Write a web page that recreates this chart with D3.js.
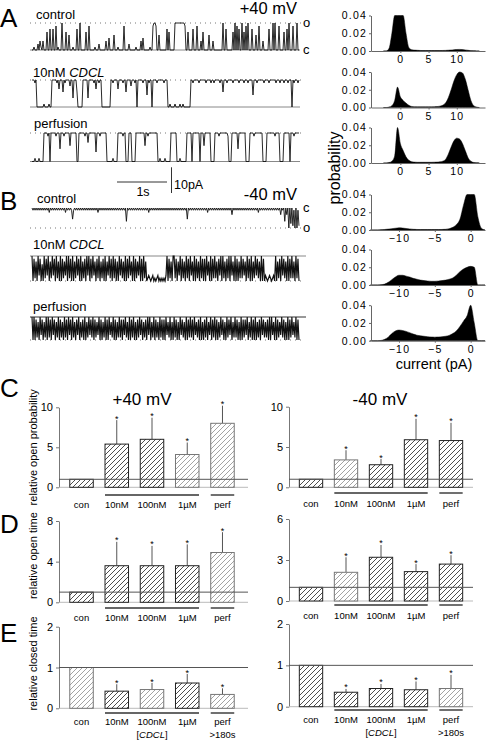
<!DOCTYPE html>
<html><head><meta charset="utf-8">
<script src="https://cdn.jsdelivr.net/npm/d3@7"></script>
<style>
body{margin:0;background:#fff}
svg{display:block}
text{font-family:"Liberation Sans",Arial,Helvetica,sans-serif}
</style>
</head><body>
<svg id="fig" width="486" height="742"></svg>
<script>
// ================= DATA =================
// single-channel traces: one digit per sample, 0 = closed level, 9 = fully open level;
// every trace covers the same 5.36 s record
const traceDuration = 5.36;
const traceA_control = ["0010002031","0300060070","0700801000","9000600500","0100070090","0000600800","0001000200","0000300400","0050001000","0080000200","0000100003","0400000010","0899800500","0000070600","0009999999","9998006000","0700080003","0600000500","0300000000","0900700000","0609080700","9060809000","7000500800","0300000700","0909000800","0060070900","08000900"].join("");
const traceA_cdcl = ["9998900000","0010000100","9999989699","9598999979","9399950000","0999993999","9989699899","0000000009","9899996999","9899599997","9998909999","9899949899","0999989999","9989990010","0001000010","0100000009","9899999899","9999899998","9989999989","9599989999","9899999899","9989998999","9499989999","9989999899","9999899989","9989998999","09899989"].join("");
const traceA_perf = ["0001000100","0099998909","9999899949","9989999959","9999900999","9998996999","9999399989","9999900000","0100009999","9899000999","0000999999","9995998999","9999990010","0001000009","9999900010","0000099999","0999999909","9959999990","0009999899","9999998000","9999994999","9999000099","9989999999","9000099999","9998999900","0099999909","99899999"].join("");
const traceB_control = ["0101010101","0101010201","0101010101","0102010101","5101010101","0101010101","0101020101","0101010101","0101010101","0106010101","0101010101","0101020101","0101010101","0101010101","0101010101","0105010101","0101010101","0102010101","0101010101","0101010301","0101010101","0101010101","0102010101","0101010101","0101030106","0309070819","0918"].join("");
const traceB_cdcl = ["0918290719","3908170928","0719082909","1827090819","0928071909","2819070918","0729180928","1909270819","0819290718","2909180729","0918270919","0829878987","9898798989","8970918290","0819270918","2908190729","0918290819","1907290918","0829170908","2918090729","0919280817","2908190928","0718290919","7898789879","0928190718","2909180829","0819"].join("");
const traceB_perf = ["0909182907","1928090819","0719280918","2908190719","0829170928","1909280718","0918270919","2809190728","0919280819","1708290918","0929180719","2819070928","0918290819","1907280929","0819290718","2909180819","0728190929","1809270918","0919280719","2908170928","0819290918","1709280919","0928190718","2819090729","0918270819","2909180728","0919"].join("");
const traceAmpA = 10.5;            // pA, +40 mV
const traceAmpB = [-8, -9.5, -9];  // pA, -40 mV (control, CDCL, perfusion)

// amplitude histograms (current in pA, probability)
const binsPos = [-3,-2.5,-2,-1.5,-1,-0.5,0,0.5,1,1.5,2,2.5,3,3.5,4,4.5,5,5.5,6,6.5,7,7.5,8,8.5,9,9.5,10,10.5,11,11.5,12,12.5,13,13.5,14];
const histA_control = [0,0,0.003,0.02,0.045,0.05,0.05,0.045,0.02,0.004,0.0015,0.001,0.0008,0.0006,0.0005,0.0005,0.0005,0.0005,0.0005,0.0005,0.0005,0.0006,0.0007,0.0009,0.0011,0.0014,0.0017,0.0018,0.0016,0.0012,0.0008,0.0004,0.0002,0,0];
const histA_cdcl = [0,0,0.0005,0.002,0.008,0.023,0.012,0.008,0.005,0.0025,0.0012,0.0009,0.0008,0.0008,0.0008,0.0008,0.0008,0.0008,0.0009,0.001,0.0015,0.0025,0.005,0.011,0.02,0.03,0.037,0.04,0.039,0.032,0.02,0.008,0.002,0.0005,0];
const histA_perf = [0,0,0.0005,0.002,0.008,0.05,0.022,0.014,0.007,0.003,0.0015,0.001,0.0008,0.0008,0.0008,0.0008,0.0008,0.0008,0.0009,0.001,0.0013,0.002,0.004,0.01,0.018,0.025,0.028,0.027,0.022,0.014,0.006,0.002,0.0006,0.0002,0];
const binsNeg = [-14,-13.5,-13,-12.5,-12,-11.5,-11,-10.5,-10,-9.5,-9,-8.5,-8,-7.5,-7,-6.5,-6,-5.5,-5,-4.5,-4,-3.5,-3,-2.5,-2,-1.5,-1,-0.5,0,0.5,1,1.5,2];
const histB_control = [0,0,0,0.0003,0.0006,0.001,0.0015,0.002,0.0024,0.0022,0.0017,0.0012,0.0008,0.0006,0.0005,0.0005,0.0005,0.0005,0.0005,0.0005,0.0006,0.0008,0.0015,0.003,0.006,0.012,0.028,0.045,0.05,0.042,0.015,0.002,0];
const histB_cdcl = [0,0,0,0.0003,0.001,0.003,0.006,0.009,0.011,0.011,0.010,0.009,0.0075,0.0065,0.0055,0.005,0.0045,0.0042,0.0042,0.0045,0.005,0.0055,0.0065,0.008,0.011,0.015,0.018,0.02,0.021,0.02,0,0,0];
const histB_perf = [0,0,0,0.0003,0.0015,0.004,0.008,0.011,0.012,0.0115,0.0105,0.009,0.0075,0.0062,0.0055,0.005,0.0045,0.0042,0.004,0.0042,0.0045,0.005,0.006,0.008,0.011,0.016,0.022,0.028,0.045,0.02,0,0,0];
const histTicksY = [0, 0.02, 0.04];
const histTicksPos = [0, 5, 10];
const histTicksNeg = [-10, -5, 0];

// summary bar charts (relative to control), mean and SEM
const categories = ["con","10nM","100nM","1µM","perf"];
const openProbP40 = [1, 5.4, 6.0, 4.1, 8.0];
const openProbP40Sem = [0, 3.0, 2.7, 1.5, 2.2];
const openProbM40 = [1, 3.4, 2.8, 5.9, 5.8];
const openProbM40Sem = [0, 1.2, 0.7, 2.6, 2.2];
const openTimeP40 = [1, 3.6, 3.6, 3.6, 4.9];
const openTimeP40Sem = [0, 2.35, 1.95, 2.1, 2.0];
const openTimeM40 = [1, 2.1, 3.2, 2.15, 2.7];
const openTimeM40Sem = [0, 1.1, 0.9, 0.55, 0.65];
const closedTimeP40 = [1, 0.42, 0.46, 0.62, 0.34];
const closedTimeP40Sem = [0, 0.17, 0.16, 0.22, 0.15];
const closedTimeM40 = [1, 0.35, 0.44, 0.41, 0.44];
const closedTimeM40Sem = [0, 0.08, 0.11, 0.2, 0.33];
const significant = [false, true, true, true, true];

// ================= DRAWING =================
const svg = d3.select("#fig");
const defs = svg.append("defs");
[["hatchDark","#222"],["hatchLight","#8c8c8c"]].forEach(([id,col])=>{
  const p = defs.append("pattern").attr("id",id).attr("patternUnits","userSpaceOnUse").attr("width",5).attr("height",5);
  p.append("rect").attr("width",5).attr("height",5).attr("fill","#fff");
  p.append("path").attr("d","M-1,1 l2,-2 M0,5 l5,-5 M4,6 l2,-2").attr("stroke",col).attr("stroke-width",0.8);
});

function text(x,y,s,size,anchor){
  return svg.append("text").attr("x",x).attr("y",y).attr("font-size",size).attr("text-anchor",anchor||"start").attr("fill","#000").text(s);
}
function cdclLabel(x,y,size){
  const t = svg.append("text").attr("x",x).attr("y",y).attr("font-size",size).attr("fill","#000");
  t.append("tspan").text("10nM ");
  t.append("tspan").attr("font-style","italic").text("CDCL");
}

// panel letters
text(0,27,"A",26); text(0,210,"B",26); text(0,397,"C",26); text(0,533,"D",26); text(0,642,"E",26);

// ---- traces ----
const traceX = d3.scaleLinear().domain([0, traceDuration]).range([32, 300]);
const traces = [
  {s:traceA_control, amp:traceAmpA, yc:50, yo:23, closedStyle:"solid", label:"control", ly:19, lx:36, w:0.9},
  {s:traceA_cdcl, amp:traceAmpA, yc:107, yo:80, closedStyle:"solid", label:"cdcl", ly:77, lx:33, w:0.9},
  {s:traceA_perf, amp:traceAmpA, yc:161.5, yo:133, closedStyle:"solid", label:"perfusion", ly:128, lx:34, w:0.9},
  {s:traceB_control, amp:traceAmpB[0], yc:208, yo:228, closedStyle:"none", label:"control", ly:203, lx:37, w:0.9},
  {s:traceB_cdcl, amp:traceAmpB[1], yc:256, yo:281, closedStyle:"solid", label:"cdcl", ly:249, lx:33, w:1.15},
  {s:traceB_perf, amp:traceAmpB[2], yc:317, yo:340, closedStyle:"dark", label:"perfusion", ly:311, lx:33, w:1.15}
];
const traceScales = [];
traces.forEach(tr=>{
  const y = d3.scaleLinear().domain([0, tr.amp]).range([tr.yc, tr.yo]);
  traceScales.push(y);
  const dt = traceDuration / tr.s.length;
  const pts = tr.s.split("").map((c,i)=>[i*dt, (+c)/9*tr.amp]);
  svg.append("line").attr("x1",traceX(0)-2).attr("x2",traceX(traceDuration)+2).attr("y1",y(tr.amp)).attr("y2",y(tr.amp))
    .attr("stroke","#777").attr("stroke-width",1).attr("stroke-dasharray","1,4");
  if (tr.closedStyle!=="none"){
    svg.append("line").attr("x1",traceX(0)-2).attr("x2",traceX(traceDuration)+(tr.amp<0?6:0)).attr("y1",y(0)).attr("y2",y(0))
      .attr("stroke",tr.closedStyle==="dark"?"#333":"#888").attr("stroke-width",1);
  }
  svg.append("path").datum(pts)
    .attr("d", d3.line().x(d=>traceX(d[0])).y(d=>y(d[1])))
    .attr("fill","none").attr("stroke","#111").attr("stroke-width",tr.w);
  if (tr.label==="cdcl") cdclLabel(tr.lx, tr.ly, 13);
  else text(tr.lx, tr.ly, tr.label, 13);
});
text(297,14,"+40 mV",16.5,"end");
text(297,200,"-40 mV",16.5,"end");
text(303,27,"o",13); text(303,54,"c",13);
text(303,212,"c",13); text(303,232,"o",13);
// scale bar 1 s / 10 pA
const sb0 = 1.7;
svg.append("line").attr("x1",traceX(sb0)).attr("x2",traceX(sb0+1)).attr("y1",182).attr("y2",182).attr("stroke","#333").attr("stroke-width",1);
const yA = traceScales[0];
const barH = yA(0)-yA(10);
svg.append("line").attr("x1",traceX(sb0+1)+4.5).attr("x2",traceX(sb0+1)+4.5).attr("y1",193).attr("y2",193-barH).attr("stroke","#333").attr("stroke-width",1);
text(traceX(sb0+0.5)+1,196,"1s",12.5,"middle");
text(traceX(sb0+1)+7,189,"10pA",12.5);

// ---- histograms ----
const hxPos = d3.scaleLinear().domain([-5.2, 15]).range([371, 485]);
const hxNeg = d3.scaleLinear().domain([-13.9, 2.0]).range([371, 485]);
const hists = [
  {bins:binsPos, v:histA_control, x:hxPos, base:51, ticks:histTicksPos},
  {bins:binsPos, v:histA_cdcl, x:hxPos, base:107.5, ticks:histTicksPos},
  {bins:binsPos, v:histA_perf, x:hxPos, base:163, ticks:histTicksPos},
  {bins:binsNeg, v:histB_control, x:hxNeg, base:230, ticks:histTicksNeg},
  {bins:binsNeg, v:histB_cdcl, x:hxNeg, base:285, ticks:histTicksNeg},
  {bins:binsNeg, v:histB_perf, x:hxNeg, base:340.7, ticks:histTicksNeg}
];
hists.forEach(h=>{
  const y = d3.scaleLinear().domain([0,0.04]).range([h.base, h.base-35.5]).clamp(true);
  const data = h.bins.map((b,i)=>[b, h.v[i]]);
  svg.append("path").datum(data)
    .attr("d", d3.area().x(d=>h.x(d[0])).y0(y(0)).y1(d=>y(d[1])).curve(d3.curveMonotoneX))
    .attr("fill","#000").attr("stroke","#000").attr("stroke-width",0.5);
  const gy = svg.append("g").attr("transform",`translate(371,0)`)
    .call(d3.axisLeft(y).tickValues(histTicksY).tickFormat(d3.format(".2f")).tickSize(2).tickSizeOuter(0).tickPadding(2));
  const gx = svg.append("g").attr("transform",`translate(0,${h.base})`)
    .call(d3.axisBottom(h.x).tickValues(h.ticks).tickFormat(d3.format("d")).tickSize(2).tickSizeOuter(0).tickPadding(3));
  [gy,gx].forEach(g=>{
    g.select(".domain").attr("stroke","#666");
    g.selectAll(".tick line").attr("stroke","#666");
    g.selectAll("text").attr("font-size",10.5).attr("fill","#000").attr("letter-spacing",1.2)
      .attr("font-family",'"Liberation Sans",Arial,sans-serif');
  });
});
svg.append("text").attr("transform","translate(340,168) rotate(-90)").attr("text-anchor","middle")
  .attr("font-size",16).text("probability");
text(434,369,"current (pA)",14.5,"middle");

// ---- bar charts ----
const dark = "hatchDark", light = "hatchLight";
function barChart(cfg){
  const x = d3.scaleBand().domain(categories).range(cfg.xr).paddingInner(0.333).paddingOuter(0.1665);
  const y = d3.scaleLinear().domain(cfg.yd).range(cfg.yr);
  const g = svg.append("g");
  const ga = g.append("g").attr("transform",`translate(${cfg.axisX},0)`)
    .call(d3.axisLeft(y).tickValues(cfg.ticks).tickFormat(d3.format("d")).tickSize(3).tickSizeOuter(0).tickPadding(3));
  ga.select(".domain").attr("stroke","#777");
  ga.selectAll(".tick line").attr("stroke","#777");
  ga.selectAll("text").attr("font-size",11).attr("fill","#000").attr("font-family",'"Liberation Sans",Arial,sans-serif');
  g.append("line").attr("x1",cfg.axisX).attr("x2",cfg.refEnd).attr("y1",y(0)).attr("y2",y(0)).attr("stroke","#bbb");
  const bw = x.bandwidth();
  categories.forEach((c,i)=>{
    const v = cfg.values[i], e = cfg.sem[i];
    const sh = cfg.shade[i];
    if (e>0) g.append("line").attr("x1",x(c)+bw/2).attr("x2",x(c)+bw/2).attr("y1",y(v)).attr("y2",y(v+e))
      .attr("stroke","#555").attr("stroke-width",1);
    g.append("rect").attr("x",x(c)).attr("y",y(v)).attr("width",bw).attr("height",y(0)-y(v))
      .attr("fill",`url(#${sh})`).attr("stroke",sh===dark?"#222":"#777").attr("stroke-width",1);
    if (significant[i]) g.append("text").attr("x",x(c)+bw/2).attr("y",y(v+e)+1.5).attr("text-anchor","middle")
      .attr("font-size",9).text("*");
    g.append("text").attr("x",x(c)+bw/2).attr("y",cfg.labelY).attr("text-anchor","middle").attr("font-size",9.5).text(c);
  });
  g.append("line").attr("x1",cfg.axisX).attr("x2",cfg.refEnd).attr("y1",y(1)).attr("y2",y(1)).attr("stroke","#555").attr("stroke-width",1);
  g.append("line").attr("x1",x("10nM")).attr("x2",x("1µM")+bw).attr("y1",cfg.ulY).attr("y2",cfg.ulY).attr("stroke","#333").attr("stroke-width",1.4);
  g.append("line").attr("x1",x("perf")).attr("x2",x("perf")+bw).attr("y1",cfg.ulY).attr("y2",cfg.ulY).attr("stroke","#333").attr("stroke-width",1.4);
  if (cfg.extra){
    const t = g.append("text").attr("x",x("100nM")+bw/2).attr("y",cfg.labelY+13).attr("text-anchor","middle").attr("font-size",9.5);
    t.append("tspan").text("[");
    t.append("tspan").attr("font-style","italic").text("CDCL");
    t.append("tspan").text("]");
    g.append("text").attr("x",x("perf")+bw/2).attr("y",cfg.labelY+13).attr("text-anchor","middle").attr("font-size",9.5).text(">180s");
  }
  if (cfg.ylabel){
    g.append("text").attr("transform",`translate(${cfg.axisX-22},${(cfg.yr[0]+cfg.yr[1])/2+cfg.ylOff}) rotate(-90)`)
      .attr("text-anchor","middle").attr("font-size",11).text(cfg.ylabel);
  }
  return g;
}
const L = {xr:[63.9,240.1], axisX:59, refEnd:248};
const R = {xr:[293.5,468.5], axisX:289, refEnd:473};
barChart({...L, yd:[0,10], yr:[487.3,407.3], ticks:[0,5,10], values:openProbP40, sem:openProbP40Sem,
  shade:[dark,dark,dark,light,light], labelY:508, ulY:495, ylabel:"relative open probability", ylOff:0});
barChart({...R, yd:[0,10], yr:[487.3,406.7], ticks:[0,5,10], values:openProbM40, sem:openProbM40Sem,
  shade:[dark,light,dark,dark,dark], labelY:507, ulY:493});
barChart({...L, yd:[0,8], yr:[602.3,521], ticks:[0,4,8], values:openTimeP40, sem:openTimeP40Sem,
  shade:[dark,dark,dark,dark,light], labelY:621, ulY:608, ylabel:"relative open time", ylOff:-6});
barChart({...R, yd:[0,6], yr:[601,519], ticks:[0,3,6], values:openTimeM40, sem:openTimeM40Sem,
  shade:[dark,light,dark,dark,dark], labelY:619, ulY:605});
barChart({...L, yd:[0,2], yr:[708.3,626.7], ticks:[0,1,2], values:closedTimeP40, sem:closedTimeP40Sem,
  shade:[light,dark,light,dark,light], labelY:725, ulY:713, ylabel:"relative closed time", ylOff:-4, extra:true});
barChart({...R, yd:[0,2], yr:[706.7,624], ticks:[0,1,2], values:closedTimeM40, sem:closedTimeM40Sem,
  shade:[dark,dark,dark,dark,light], labelY:723, ulY:710, extra:true});
text(142,405,"+40 mV",17,"middle");
text(380,405,"-40 mV",17,"middle");
</script>
</body></html>
